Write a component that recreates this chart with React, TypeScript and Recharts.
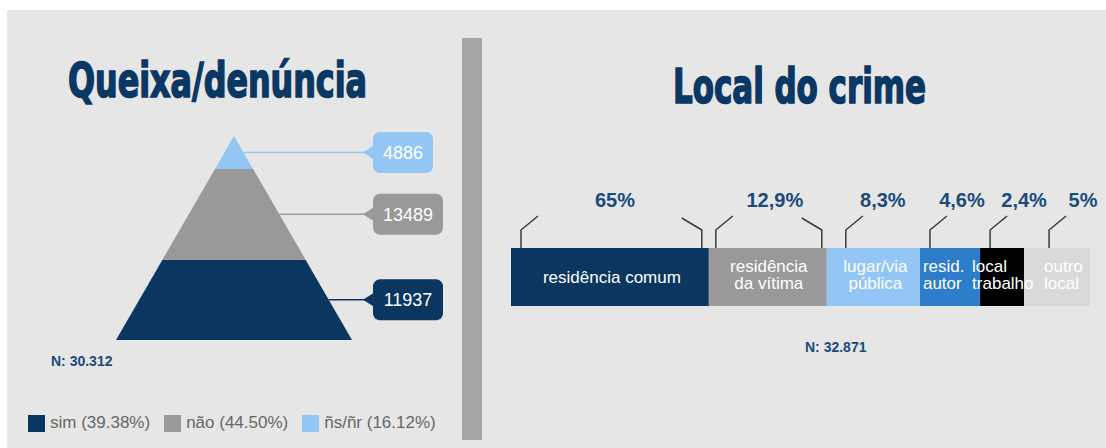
import React from 'react';
import { BarChart, Bar, XAxis, YAxis } from 'recharts';

// ---------- data: Queixa/denúncia (pyramid, bottom to top) ----------
const complaintKeys = ['sim', 'nao', 'nsnr'];
const complaintNames = ['sim', 'não', 'ñs/ñr'];
const complaintCounts = [11937, 13489, 4886];
const complaintPercents = ['39.38%', '44.50%', '16.12%'];
const complaintTotalLabel = 'N: 30.312';

// ---------- data: Local do crime (stacked bar, left to right) ----------
const locationKeys = ['comum', 'vitima', 'publica', 'autor', 'trabalho', 'outro'];
const locationLabels = [
  ['residência comum'],
  ['residência', 'da vítima'],
  ['lugar/via', 'pública'],
  ['resid.', 'autor'],
  ['local', 'trabalho'],
  ['outro', 'local'],
];
const locationPercents = ['65%', '12,9%', '8,3%', '4,6%', '2,4%', '5%'];
// share of the bar length each segment occupies as drawn in the picture
const locationBarShare = [34.2, 20.4, 16.1, 10.4, 7.6, 11.4];
const locationTotalLabel = 'N: 32.871';

// ---------- styles ----------
const complaintColors = ['#0a365f', '#999999', '#93c6f4'];
const locationColors = ['#0a365f', '#999999', '#93c6f4', '#2d7dca', '#000000', '#d9d9d9'];
const TITLE = '#0a3763';
const PCT = '#1b4b7a';
const SANS = "'Liberation Sans', Arial, sans-serif";
const TITLE_FONT = "'DejaVu Sans Condensed', 'DejaVu Sans', sans-serif";

const complaintTotal = complaintCounts.reduce((a, b) => a + b, 0);
const complaintData = [
  complaintKeys.reduce((o: any, k, i) => ({ ...o, [k]: complaintCounts[i] }), { name: 'queixa' }),
];
const locationTotal = locationBarShare.reduce((a, b) => a + b, 0);
const locationData = [
  locationKeys.reduce((o: any, k, i) => ({ ...o, [k]: locationBarShare[i] }), { name: 'local' }),
];

// pyramid chart geometry
const PYR = { w: 455, h: 438, top: 126, bottom: 108, left: 109, right: 110 };

const makePyramidShape = (i: number) => (props: any) => {
  const { x, y, width, height } = props;
  const apexY = PYR.top;
  const baseY = PYR.h - PYR.bottom;
  const H = baseY - apexY;
  const cx = x + width / 2;
  const half = (yy: number) => ((yy - apexY) / H) * (width / 2);
  const y0 = y;
  const y1 = y + height;
  const pts = `${cx - half(y0)},${y0} ${cx + half(y0)},${y0} ${cx + half(y1)},${y1} ${cx - half(y1)},${y1}`;
  const my = y + height / 2;
  const ex = cx + half(my);
  const tipX = x + width + 11;
  const boxX = tipX + 10;
  const text = String(complaintCounts[i]);
  const boxW = text.length * 10 + 20;
  const color = complaintColors[i];
  return (
    <g>
      <polygon points={pts} fill={color} />
      <line x1={ex} y1={my} x2={tipX + 2} y2={my} stroke={color} strokeWidth={1.5} />
      <rect x={boxX} y={my - 20.5} width={boxW} height={41} rx={7} ry={7} fill={color} />
      <polygon points={`${boxX + 1},${my - 7} ${tipX},${my} ${boxX + 1},${my + 7}`} fill={color} />
      <text
        x={boxX + boxW / 2}
        y={my + 6.5}
        textAnchor="middle"
        fontFamily={SANS}
        fontSize={18}
        fill="#ffffff"
      >
        {text}
      </text>
    </g>
  );
};

const bracketDx = [10, 7, 19, 10, 10, 25];
const rightBracketDx: Record<number, number> = { 0: 7, 1: 5 };
const pctDx = [104, 66, 56, 42, 44, 59];
const innerCentered = [true, true, true, false, false, false];
const innerDx = [2, 1, 2, 3, -8, 20];
const LAST = locationKeys.length - 1;

const innerLabel = (j: number, sx: number, sw: number, y: number) => {
  const lines = locationLabels[j];
  const centered = innerCentered[j];
  const tx = centered ? sx + sw / 2 + innerDx[j] : sx + innerDx[j];
  const baselines = lines.length === 1 ? [y + 35] : [y + 24, y + 41];
  return lines.map((ln, k) => (
    <text
      key={`${j}-${k}`}
      x={tx}
      y={baselines[k]}
      textAnchor={centered ? 'middle' : 'start'}
      fontFamily={SANS}
      fontSize={17}
      fill="#ffffff"
    >
      {ln}
    </text>
  ));
};

const makeLocationShape = (i: number) => (props: any) => {
  const { x, y, width, height } = props;
  const color = locationColors[i];
  const bx = x + bracketDx[i];
  const hasRight = rightBracketDx[i] !== undefined;
  const rx = x + width - (rightBracketDx[i] || 0);
  // the overflowing label of the previous segment is drawn on top of the last segment
  let extra: any = null;
  if (i === LAST) {
    const ppu = width / locationBarShare[LAST];
    const pw = locationBarShare[LAST - 1] * ppu;
    extra = innerLabel(LAST - 1, x - pw, pw, y);
  }
  return (
    <g>
      <rect x={x} y={y} width={width} height={height} fill={color} />
      <path
        d={`M${bx},${y} L${bx},${y - 18} L${bx + 17},${y - 32}`}
        fill="none"
        stroke="#3a3a3a"
        strokeWidth={1.5}
      />
      {hasRight && (
        <path
          d={`M${rx},${y} L${rx},${y - 18} L${rx - 20},${y - 30}`}
          fill="none"
          stroke="#3a3a3a"
          strokeWidth={1.5}
        />
      )}
      <text
        x={x + pctDx[i]}
        y={y - 41}
        textAnchor="middle"
        fontFamily={SANS}
        fontWeight="bold"
        fontSize={20}
        fill={PCT}
      >
        {locationPercents[i]}
      </text>
      {i !== LAST - 1 && innerLabel(i, x, width, y)}
      {extra}
    </g>
  );
};

export default function App() {
  return (
    <div
      style={{
        position: 'absolute',
        left: 0,
        top: 0,
        width: 1106,
        height: 448,
        background: '#ffffff',
        overflow: 'hidden',
      }}
    >
      <div
        style={{
          position: 'absolute',
          left: 7,
          top: 10,
          width: 1099,
          height: 438,
          background: '#e6e6e6',
        }}
      >
        {/* divider */}
        <div
          style={{
            position: 'absolute',
            left: 455,
            top: 28,
            width: 20,
            height: 402,
            background: '#a6a6a6',
          }}
        />

        {/* pyramid chart */}
        <div style={{ position: 'absolute', left: 0, top: 0 }}>
          <BarChart
            width={PYR.w}
            height={PYR.h}
            data={complaintData}
            margin={{ top: PYR.top, bottom: PYR.bottom, left: PYR.left, right: PYR.right }}
            barCategoryGap={0}
          >
            <XAxis dataKey="name" hide />
            <YAxis type="number" domain={[0, complaintTotal]} hide />
            {complaintKeys.map((k, i) => (
              <Bar
                key={k}
                dataKey={k}
                stackId="p"
                fill={complaintColors[i]}
                isAnimationActive={false}
                shape={makePyramidShape(i)}
              />
            ))}
          </BarChart>
        </div>

        {/* location stacked bar */}
        <div style={{ position: 'absolute', left: 483, top: 0 }}>
          <BarChart
            width={616}
            height={438}
            layout="vertical"
            data={locationData}
            margin={{ top: 238, bottom: 142, left: 21, right: 16 }}
            barCategoryGap={0}
          >
            <XAxis type="number" domain={[0, locationTotal]} hide />
            <YAxis type="category" dataKey="name" hide />
            {locationKeys.map((k, i) => (
              <Bar
                key={k}
                dataKey={k}
                stackId="l"
                fill={locationColors[i]}
                isAnimationActive={false}
                shape={makeLocationShape(i)}
              />
            ))}
          </BarChart>
        </div>

        {/* titles and totals */}
        <svg
          width={1099}
          height={438}
          style={{ position: 'absolute', left: 0, top: 0, pointerEvents: 'none' }}
        >
          <text
            x={61}
            y={87}
            fontFamily={TITLE_FONT}
            fontWeight="bold"
            fontSize={48}
            textLength={299}
            lengthAdjust="spacingAndGlyphs"
            fill={TITLE}
            stroke={TITLE}
            strokeWidth={1.6}
          >
            Queixa/denúncia
          </text>
          <text
            x={666}
            y={93}
            fontFamily={TITLE_FONT}
            fontWeight="bold"
            fontSize={48}
            textLength={253}
            lengthAdjust="spacingAndGlyphs"
            fill={TITLE}
            stroke={TITLE}
            strokeWidth={1.6}
          >
            Local do crime
          </text>
          <text x={44} y={356} fontFamily={SANS} fontWeight="bold" fontSize={14} fill={PCT}>
            {complaintTotalLabel}
          </text>
          <text x={798} y={342} fontFamily={SANS} fontWeight="bold" fontSize={14} fill={PCT}>
            {locationTotalLabel}
          </text>
        </svg>

        {/* legend */}
        <div
          style={{
            position: 'absolute',
            left: 21,
            top: 403,
            display: 'flex',
            alignItems: 'center',
            fontFamily: SANS,
            fontSize: 17,
            color: '#666666',
            whiteSpace: 'nowrap',
          }}
        >
          {complaintNames.map((n, i) => (
            <div
              key={n}
              style={{ display: 'flex', alignItems: 'center', marginRight: 14 }}
            >
              <span
                style={{
                  display: 'inline-block',
                  width: 17,
                  height: 17,
                  background: complaintColors[i],
                  marginRight: 5,
                }}
              />
              <span>{`${n} (${complaintPercents[i]})`}</span>
            </div>
          ))}
        </div>
      </div>
    </div>
  );
}
